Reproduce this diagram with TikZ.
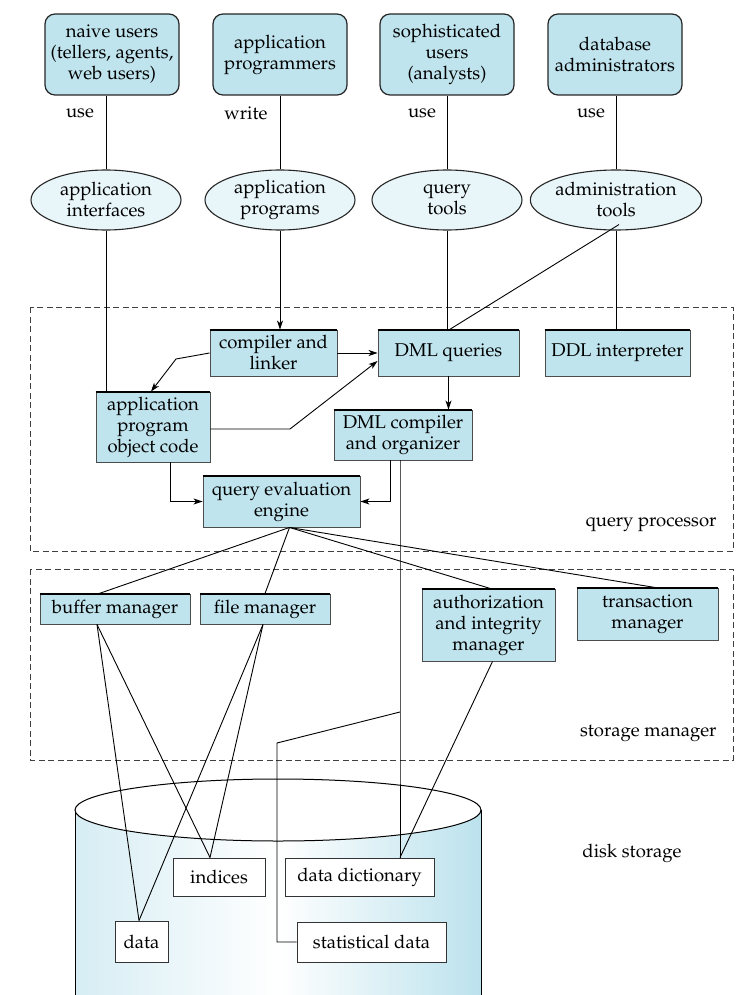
\documentclass[tikz,border=0pt]{standalone}
\usepackage[T1]{fontenc}
\renewcommand{\rmdefault}{ppl}
\usetikzlibrary{shapes.geometric,arrows.meta,calc}
\definecolor{boxblue}{RGB}{191,228,238}
\definecolor{ellblue}{RGB}{232,245,249}
\definecolor{cylL}{RGB}{214,237,244}
\definecolor{cylR}{RGB}{188,226,237}
\begin{document}
\begin{tikzpicture}[x=1pt,y=-1pt,
  every node/.style={font=\fontsize{18.5}{21}\selectfont},
  topbox/.style={draw=black!85, line width=1.2pt, rounded corners=10pt, fill=boxblue, minimum width=134pt, minimum height=81pt, align=center, inner sep=0pt},
  ell/.style={ellipse, draw=black!85, line width=1.1pt, fill=ellblue, minimum width=150pt, minimum height=60pt, align=center, inner sep=0pt},
  pbox/.style={draw=black!70, line width=0.9pt, fill=boxblue, align=center, inner sep=0pt},
  wbox/.style={draw=black!80, line width=0.9pt, fill=white, inner sep=0pt},
  conn/.style={line width=0.9pt},
  arr/.style={conn, -{Stealth[length=9pt,width=6pt,inset=2.5pt]}},
  region/.style={draw=black!75, dash pattern=on 6pt off 3.5pt, line width=0.9pt}
]
\useasboundingbox (0,0) rectangle (742,995);
% disk cylinder
\shade[left color=cylL, right color=cylR, middle color=white] (75,810) rectangle (481,1000);
\draw[line width=1pt] (75,1000) -- (75,810) (481,810) -- (481,1000);
\draw[line width=1pt, fill=white] (278,810) ellipse [x radius=203pt, y radius=31pt];
% regions
\draw[region] (30,307) rectangle (733,551);
\draw[region] (30,569) rectangle (733,760);
\node[anchor=east] (qp) at (720,525) {query processor};
\node[anchor=east] (sm) at (720,733) {storage manager};
\node (ds) at (632,853) {disk storage};
% users
\node[topbox] (B1) at (112,54.5) {naive users\\(tellers, agents,\\web users)};
\node[topbox] (B2) at (280,54.5) {application\\programmers};
\node[topbox] (B3) at (447,54.5) {sophisticated\\users\\(analysts)};
\node[topbox] (B4) at (615,54.5) {database\\administrators};
\node (u1) at (80,113) {use};
\node (u2) at (246,113) {write};
\node (u3) at (422,113) {use};
\node (u4) at (591,113) {use};
% tools
\node[ell] (E1) at (106,200) {application\\interfaces};
\node[ell] (E2) at (280,200) {application\\programs};
\node[ell] (E3) at (447,200) {query\\tools};
\node[ell] (E4) at (616,200) {administration\\tools};
% query processor
\node[pbox, minimum width=127pt, minimum height=46pt] (CL) at (273.5,353) {compiler and\\linker};
\node[pbox, minimum width=141pt, minimum height=46pt] (DQ) at (448.5,353) {DML queries};
\node[pbox, minimum width=145pt, minimum height=46pt] (DDL) at (617.5,353) {DDL interpreter};
\node[pbox, minimum width=114pt, minimum height=70pt] (AP) at (153,427) {application\\program\\object code};
\node[pbox, minimum width=138pt, minimum height=50pt] (DC) at (403,435) {DML compiler\\and organizer};
\node[pbox, minimum width=157pt, minimum height=51pt] (QE) at (281.5,501.5) {query evaluation\\engine};
% storage manager
\node[pbox, minimum width=150pt, minimum height=30pt] (BM) at (115,609) {buffer manager};
\node[pbox, minimum width=130pt, minimum height=30pt] (FM) at (265,609) {file manager};
\node[pbox, minimum width=133pt, minimum height=72pt] (AI) at (488.5,625) {authorization\\and integrity\\manager};
\node[pbox, minimum width=141pt, minimum height=52pt] (TM) at (647.5,614) {transaction\\manager};
% disk
\node[wbox, minimum width=53pt, minimum height=41pt] (data) at (141.5,941.5) {data};
\node[wbox, minimum width=92pt, minimum height=38pt] (ind) at (219,877) {indices};
\node[wbox, minimum width=149pt, minimum height=38pt] (DD) at (359.5,877) {data dictionary};
\node[wbox, minimum width=149pt, minimum height=40pt] (SD) at (371.5,942) {statistical data};
\foreach \n in {CL,DQ,DDL,AP,DC,QE,BM,FM,AI,TM}
  \draw[line width=2pt] (\n.north west) -- (\n.north east);
% connectors top
\draw[conn] (E1.north) -- (E1.north |- B1.south);
\draw[conn] (E2.north) -- (E2.north |- B2.south);
\draw[conn] (E3.north) -- (E3.north |- B3.south);
\draw[conn] (E4.north) -- (E4.north |- B4.south);
\draw[conn] (E1.south) -- (E1.south |- AP.north);
\draw[arr] (E2.south) -- (E2.south |- CL.north);
\draw[conn] (E3.south) -- (E3.south |- DQ.north);
\draw[conn] (E4.south) -- (E4.south |- DDL.north);
\draw[conn] ($(E4.south)+(3,-6)$) -- ($(DQ.north)+(1,0)$);
% query processor connectors
\draw[arr] (CL.east) -- (CL.east -| DQ.west);
\coordinate (k1) at (176,359);
\draw[arr] (CL.west) -- (k1) -- ($(AP.north)+(-2,0)$);
\coordinate (k2) at (290,429);
\draw[arr] (AP.east |- k2) -- (k2) -- ($(DQ.west)+(0,8)$);
\draw[arr] (DQ.south) -- (DQ.south |- DC.north);
\draw[arr] ($(AP.south)+(17,0)$) |- (QE.west);
\draw[arr] ($(DC.south)+(-13,0)$) |- (QE.east);
\coordinate (j) at (400,712);
\draw[conn] (DC.south -| j) -- (j) -- (j |- DD.north);
\coordinate (k3) at (277,743);
\draw[conn] (j) -- (k3) -- (k3 |- SD.west) -- (SD.west);
\coordinate (qo) at ($(QE.south)+(8,0)$);
\draw[conn] (qo) -- ($(BM.north)+(-16,0)$);
\draw[conn] (qo) -- (FM.north);
\draw[conn] (qo) -- ($(AI.north)+(2,0)$);
\draw[conn] (qo) -- ($(TM.north)+(8,0)$);
% storage to disk
\draw[conn] ($(BM.south)+(-18,0)$) -- ($(data.north)+(-2.5,0)$);
\draw[conn] ($(BM.south)+(-18,0)$) -- ($(ind.north)+(-9,0)$);
\draw[conn] ($(FM.south)+(-2,0)$) -- ($(data.north)+(-2.5,0)$);
\draw[conn] ($(FM.south)+(-2,0)$) -- ($(ind.north)+(-9,0)$);
\draw[conn] ($(AI.south)+(4,0)$) -- (j |- DD.north);
\end{tikzpicture}
\end{document}
